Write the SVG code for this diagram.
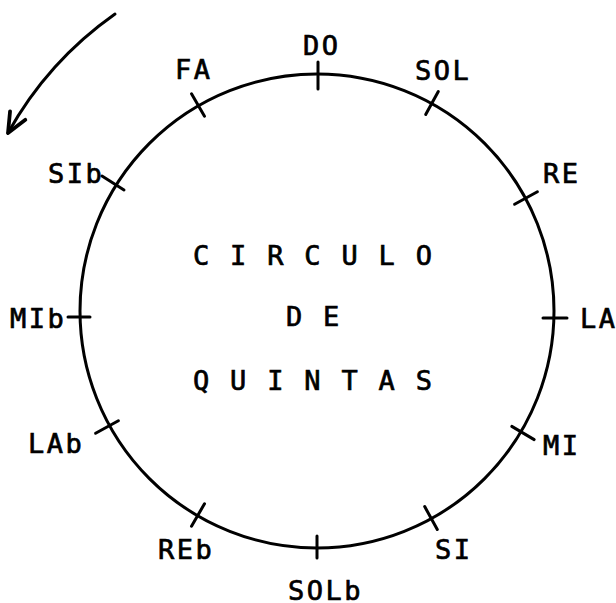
<svg xmlns="http://www.w3.org/2000/svg" width="616" height="603" viewBox="0 0 616 603">
<style>
.ln{fill:none;stroke:#000;stroke-width:3;stroke-linecap:round}
.lbl{font-family:"DejaVu Sans Mono","Liberation Mono",monospace;font-size:27px;letter-spacing:2.5px;fill:#000;stroke:#000;stroke-width:0.7}
.ttl{font-family:"DejaVu Sans Mono","Liberation Mono",monospace;font-size:27px;letter-spacing:2.3px;fill:#000;stroke:#000;stroke-width:0.7}
</style>
<defs>
<marker id="ah" markerUnits="userSpaceOnUse" markerWidth="30" markerHeight="30" refX="0" refY="0" viewBox="-20 -10 24 20" orient="auto">
<path d="M-16,-7 L0,0 L-16,7" fill="none" stroke="#000" stroke-width="3" stroke-linecap="round" stroke-linejoin="round"/>
</marker>
</defs>
<rect width="616" height="603" fill="#fff"/>
<g id="circle">
<circle class="ln" cx="317" cy="311" r="237"/>
</g>
<g id="connectors">
<path class="ln" d="M115,14 A358,358 0 0,0 8,133" marker-end="url(#ah)"/>
</g>
<g id="title">
<text class="ttl" x="193" y="265">C I R C U L O</text>
<text class="ttl" x="286" y="326">D E</text>
<text class="ttl" x="193" y="390">Q U I N T A S</text>
</g>
<g id="DO"><line class="ln" x1="318" y1="62" x2="318" y2="89"/><text class="lbl" x="303" y="55">DO</text></g>
<g id="SOL"><line class="ln" x1="438.3" y1="91.6" x2="425.7" y2="114.4"/><text class="lbl" x="415" y="80">SOL</text></g>
<g id="RE"><line class="ln" x1="537.4" y1="191.8" x2="514.6" y2="204.2"/><text class="lbl" x="543" y="183">RE</text></g>
<g id="LA"><line class="ln" x1="543" y1="318" x2="567" y2="318"/><text class="lbl" x="580" y="328">LA</text></g>
<g id="MI"><line class="ln" x1="534.2" y1="439.6" x2="511.8" y2="426.4"/><text class="lbl" x="543" y="455">MI</text></g>
<g id="SI"><line class="ln" x1="437.3" y1="529.4" x2="424.7" y2="506.6"/><text class="lbl" x="435" y="559">SI</text></g>
<g id="SOLb"><line class="ln" x1="317" y1="536" x2="317" y2="558"/><text class="lbl" x="288" y="600">SOLb</text></g>
<g id="REb"><line class="ln" x1="191.5" y1="526.2" x2="204.5" y2="503.8"/><text class="lbl" x="158" y="559">REb</text></g>
<g id="LAb"><line class="ln" x1="95.6" y1="433.3" x2="118.4" y2="420.7"/><text class="lbl" x="28" y="453">LAb</text></g>
<g id="MIb"><line class="ln" x1="68" y1="317" x2="90" y2="317"/><text class="lbl" x="10" y="328">MIb</text></g>
<g id="SIb"><line class="ln" x1="102" y1="176.1" x2="124" y2="189.9"/><text class="lbl" x="48" y="183">SIb</text></g>
<g id="FA"><line class="ln" x1="191.5" y1="93.7" x2="204.5" y2="116.3"/><text class="lbl" x="175" y="79">FA</text></g>
</svg>
